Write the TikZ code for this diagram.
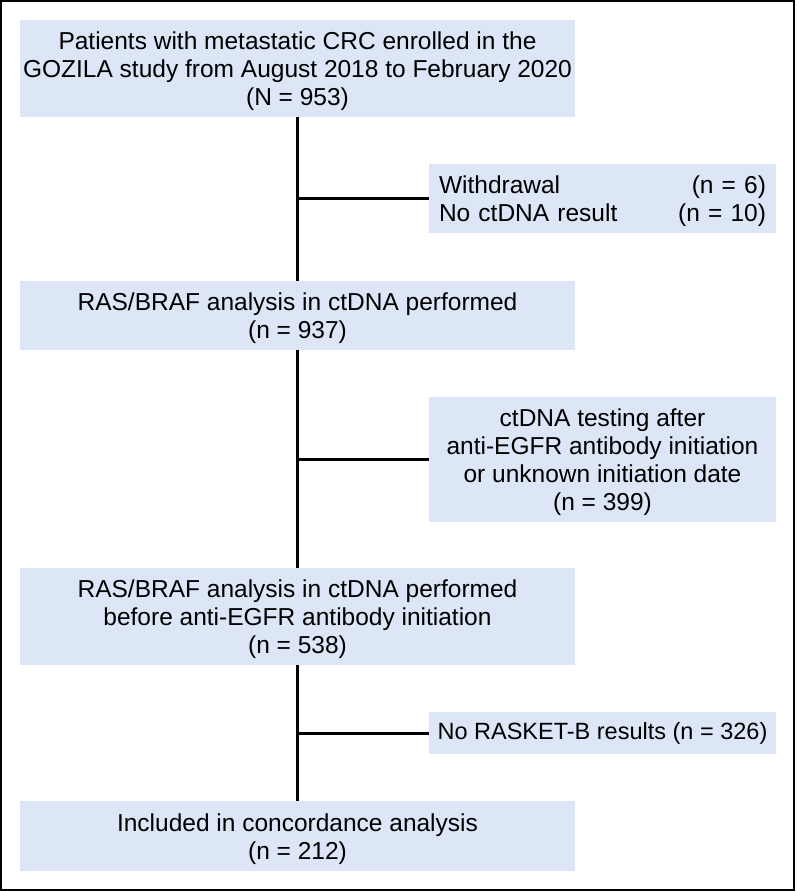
\documentclass[tikz,border=0pt]{standalone}
\usepackage{fontspec}
\setmainfont{Liberation Sans}
\definecolor{boxblue}{RGB}{220,230,247}
\newcommand{\topstrut}{\rule{0pt}{24pt}}
\begin{document}
\begin{tikzpicture}[x=1pt,y=-1pt,
  box/.style={fill=boxblue,draw=none,inner sep=0pt,align=center,
    font=\fontsize{24.5}{28}\selectfont},
  mainbox/.style={box,minimum width=555pt},
  sidebox/.style={box,minimum width=347pt},
  conn/.style={line width=3pt,draw=black}]
\useasboundingbox (0,0) rectangle (796,892);
\draw[line width=2pt] (1,1) rectangle (794,890);
% main boxes
\node[mainbox,minimum height=97pt] (box1) at (297.5,68.5)
  {\topstrut Patients with metastatic CRC enrolled in the\\GOZILA study from August 2018 to February 2020\\(N = 953)};
\node[mainbox,minimum height=69pt] (box2) at (297.5,315.5)
  {\topstrut RAS/BRAF analysis in ctDNA performed\\(n = 937)};
\node[mainbox,minimum height=97pt] (box3) at (297.5,616.5)
  {\topstrut RAS/BRAF analysis in ctDNA performed\\before anti-EGFR antibody initiation\\(n = 538)};
\node[mainbox,minimum height=70pt] (box4) at (297.5,836)
  {\topstrut Included in concordance analysis\\(n = 212)};
% side boxes
\node[sidebox,minimum height=69pt,text width=327pt,align=left] (side1) at (602.5,198.5)
  {\topstrut Withdrawal\hfill(n = 6)\\No ctDNA result\hfill(n = 10)};
\node[sidebox,minimum height=125pt] (side2) at (602.5,459.5)
  {\topstrut ctDNA testing after\\anti-EGFR antibody initiation\\or unknown initiation date\\(n = 399)};
\node[sidebox,minimum height=42pt,font=\fontsize{23.5}{28}\selectfont] (side3) at (602.5,733)
  {No RASKET-B results (n = 326)};
% connectors
\draw[conn] (box1.south) -- (box2.north);
\draw[conn] (box2.south) -- (box3.north);
\draw[conn] (box3.south) -- (box4.north);
\draw[conn] (box1.south |- side1.west) -- (side1.west);
\draw[conn] (box2.south |- side2.west) -- (side2.west);
\draw[conn] (box3.south |- side3.west) -- (side3.west);
\end{tikzpicture}
\end{document}
